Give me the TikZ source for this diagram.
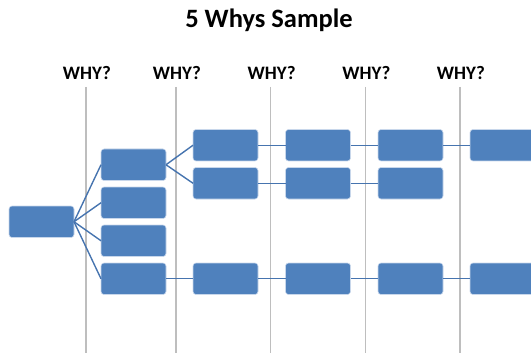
\documentclass[tikz,border=0pt]{standalone}
\usepackage{fontspec}
\setmainfont{Carlito}
\definecolor{boxblue}{RGB}{79,129,189}
\definecolor{boxedge}{RGB}{200,215,235}
\definecolor{linkblue}{RGB}{70,116,175}
\definecolor{gridgray}{RGB}{190,190,190}
\tikzset{
  whybox/.style={rectangle, rounded corners=3pt, fill=boxblue, draw=boxedge,
    line width=0.6pt, minimum width=65pt, minimum height=31.5pt,
    inner sep=0pt, outer sep=0pt, anchor=north west},
  link/.style={draw=linkblue, line width=1.4pt},
  gridline/.style={draw=gridgray, line width=1.4pt},
  whylabel/.style={font=\fontsize{19}{21}\selectfont\bfseries, inner sep=0pt, anchor=base},
  title/.style={font=\fontsize{26.5}{30}\selectfont\bfseries, inner sep=0pt, anchor=base}
}
\begin{document}
\begin{tikzpicture}[x=1pt, y=-1pt]
  \useasboundingbox (0,0) rectangle (531,353);
  \clip (0,0) rectangle (531,353);

  % title and column headings
  \node[title] (ttl) at (269,28) {5 Whys Sample};
  \foreach \i/\x in {1/86, 2/176, 3/270.7, 4/365.5, 5/460} {
    \node[whylabel] (why\i) at (\x+1,79.5) {WHY?};
    \coordinate (gt\i) at (\x,87);
    \coordinate (gb\i) at (\x,353);
    \draw[gridline] (gt\i) -- (gb\i);
  }

  % boxes
  \node[whybox] (r) at (9,206) {};
  \node[whybox] (a1) at (101,149) {};
  \node[whybox] (b1) at (101,187) {};
  \node[whybox] (c1) at (101,225) {};
  \node[whybox] (d1) at (101,263) {};
  \foreach \k/\x in {2/193, 3/285.5, 4/378} {
    \node[whybox] (a\k) at (\x,129.5) {};
    \node[whybox] (e\k) at (\x,167.5) {};
    \node[whybox] (d\k) at (\x,263) {};
  }
  \node[whybox] (a5) at (470,129.5) {};
  \node[whybox] (d5) at (470,263) {};

  % connectors
  \foreach \t in {a1,b1,c1,d1} \draw[link] (r.east) -- (\t.west);
  \draw[link] (a1.east) -- (a2.west);
  \draw[link] (a1.east) -- (e2.west);
  \draw[link] (a2.east) -- (a3.west);
  \draw[link] (a3.east) -- (a4.west);
  \draw[link] (a4.east) -- (a5.west);
  \draw[link] (e2.east) -- (e3.west);
  \draw[link] (e3.east) -- (e4.west);
  \draw[link] (d1.east) -- (d2.west);
  \draw[link] (d2.east) -- (d3.west);
  \draw[link] (d3.east) -- (d4.west);
  \draw[link] (d4.east) -- (d5.west);
\end{tikzpicture}
\end{document}
